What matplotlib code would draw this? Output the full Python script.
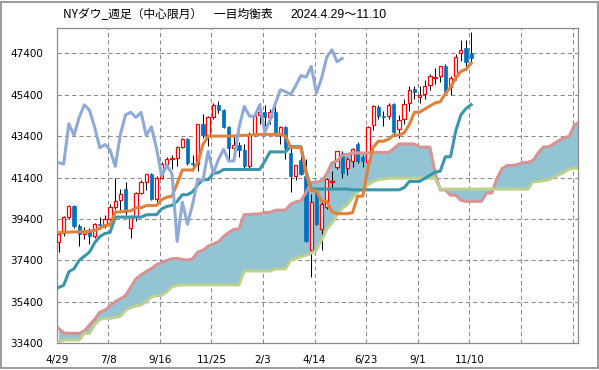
import numpy as np
import matplotlib.pyplot as plt
from matplotlib.patches import Rectangle

# NYダウ 週足 一目均衡表
plt.rcParams['font.family'] = ['DejaVu Sans']

tick_labels = ['4/29', '7/8', '9/16', '11/25', '2/3', '4/14', '6/23', '9/1', '11/10', '', '']
y_ticks = [33400, 35400, 37400, 39400, 41400, 43400, 45400, 47400]

opens = [38270, 38700, 39500, 40030, 39070, 38690, 38850, 38590, 39150, 39118,
         39375, 40000, 40300, 40850, 38950, 39500, 40660, 41175, 41563, 40345,
         41400, 42063, 42313, 42352, 42864, 43275, 42114, 42052, 43989, 43445,
         44297, 44910, 44643, 43828, 42840, 42992, 42732, 41938, 43488, 44424,
         44545, 44303, 44546, 43428, 43841, 42600, 41450, 42250, 41450, 37900,
         40700, 38900, 40000, 41160, 41900, 42600, 41850, 42220, 43000, 42400,
         42170, 43950, 44800, 44371, 44370, 44960, 43750, 44220, 45000, 45650,
         45300, 45410, 45850, 46200, 46300, 46800, 45770, 46300, 47400, 47650,
         47400]
highs = [38760, 39534, 40077, 40051, 39150, 39000, 38940, 39200, 39500, 39600,
         40100, 41376, 40850, 41200, 39600, 40700, 41300, 41585, 41600, 41450,
         42160, 42400, 42500, 42900, 43325, 43300, 42500, 44000, 44486, 44350,
         44990, 45073, 44700, 43900, 43400, 43100, 43000, 43600, 44500, 45000,
         44900, 44700, 44900, 43900, 43900, 42900, 42000, 42700, 42300, 40600,
         40800, 40300, 41400, 41700, 42700, 42700, 42400, 42800, 43100, 42500,
         43900, 44900, 44900, 44600, 45000, 45000, 44400, 45200, 45800, 45800,
         45800, 46100, 46400, 46700, 46800, 46900, 46300, 47380, 48040, 48050,
         48431]
lows = [37815, 38600, 39400, 38980, 38100, 38450, 38200, 38500, 38900, 38950,
        39200, 39900, 39850, 39600, 38499, 39300, 40600, 40800, 40300, 40200,
        41350, 41900, 41800, 41950, 42800, 42000, 41700, 41700, 43300, 42900,
        44200, 44500, 43800, 42300, 42600, 42400, 41800, 41800, 43400, 44000,
        43900, 44000, 43400, 43000, 42300, 40700, 41300, 41500, 38300, 36611,
        39100, 37900, 39900, 40800, 41800, 41400, 41500, 41900, 42100, 41900,
        42100, 43700, 44200, 43900, 44200, 43400, 43300, 44000, 44600, 45200,
        45000, 45200, 45600, 45900, 46000, 45400, 45400, 46100, 47000, 46600,
        46950]
closes = [38676, 39512, 40003, 39069, 38686, 38798, 38589, 39150, 39118, 39375,
          40000, 40287, 40589, 39737, 39497, 40659, 41175, 41563, 40345, 41393,
          42063, 42313, 42352, 42864, 43275, 42114, 42052, 43989, 43445, 44297,
          44910, 44643, 43828, 42840, 42992, 42732, 41938, 43488, 44424, 44545,
          44303, 44546, 43428, 43841, 42802, 41488, 41985, 41583, 38315, 40212,
          39142, 40113, 41317, 41249, 42655, 41603, 42270, 42763, 42197, 42206,
          43819, 44828, 44371, 44342, 44902, 43589, 44176, 44946, 45631, 45545,
          45401, 45834, 46315, 46247, 46758, 45479, 46191, 47207, 47563, 46987,
          47147]

# 転換線
tenkan = [38740, 38760, 38760, 38780, 38780, 38790, 38800, 38850, 38946, 39088,
          39100, 39738, 39738, 39788, 39788, 39938, 39938, 40042, 40050, 40050,
          40330, 40450, 40500, 41100, 41763, 41763, 41763, 42100, 43000, 43380,
          43400, 43400, 43400, 43400, 43400, 43420, 43437, 43437, 43460, 43480,
          43480, 43480, 43480, 43480, 43400, 42850, 42850, 42850, 41600, 40755,
          40755, 40255, 40255, 39755, 39655, 39655, 39655, 39705, 40500, 40500,
          41900, 42850, 43150, 43150, 43250, 43450, 43450, 43550, 43950, 44550,
          44550, 44700, 44850, 45000, 45050, 45450, 45750, 46190, 46520, 46625,
          46915]
# 基準線
kijun = [36090, 36200, 36850, 37000, 37400, 37600, 37800, 38250, 38550, 38700,
         38750, 39490, 39490, 39490, 39490, 39490, 39490, 39600, 39606, 39606,
         39886, 40006, 40056, 40256, 40570, 40570, 40713, 41050, 41293, 41293,
         41595, 41637, 41786, 41786, 41786, 41786, 41786, 41786, 41786, 41786,
         42187, 42637, 42637, 42637, 42637, 42887, 42887, 42887, 41687, 40842,
         40842, 40842, 40842, 40842, 40842, 40842, 40842, 40806, 40806, 40806,
         40806, 40806, 40806, 40806, 40806, 40806, 40806, 40906, 41206, 41206,
         41206, 41356, 41506, 41656, 41706, 42400, 42400, 43640, 44420, 44725,
         44916]
# 先行スパン1
senkou_a = [34120, 33900, 33880, 33880, 33880, 34000, 34280, 34550, 34900, 35000,
            35200, 35410, 35550, 35700, 36100, 36500, 36700, 36860, 37000, 37200,
            37280, 37400, 37480, 37500, 37450, 37415, 37480, 37805, 37890, 38090,
            38195, 38300, 38550, 38748, 38894, 38925, 39614, 39614, 39639, 39639,
            39714, 39714, 39821, 39828, 39828, 40108, 40228, 40278, 40678, 41167,
            41167, 41238, 41575, 42106, 42193, 42470, 42512, 42587, 42587, 42587,
            42587, 42612, 42612, 42612, 42612, 42794, 43019, 43019, 43019, 43019,
            42869, 42869, 42869, 41644, 40799, 40799, 40549, 40549, 40299, 40249,
            40249, 40249, 40256, 40653, 40653, 41353, 41828, 41978, 41978, 42028,
            42128, 42128, 42228, 42578, 42878, 42878, 43028, 43178, 43328, 43378,
            43925, 44075]
# 先行スパン2
senkou_b = [33450, 33560, 33560, 33560, 33560, 33880, 33880, 34300, 34550, 34610,
            34610, 34650, 34700, 35000, 35120, 35200, 35250, 35400, 35650, 35700,
            35720, 35900, 36130, 36200, 36220, 36220, 36220, 36220, 36220, 36220,
            36220, 36220, 36220, 36220, 36220, 36220, 36890, 36890, 36890, 36890,
            36890, 36890, 36990, 36990, 36990, 37420, 37500, 37580, 37650, 37750,
            37900, 38390, 38900, 39200, 39600, 39900, 40100, 40420, 40700, 40900,
            41050, 41200, 41300, 41330, 41370, 41370, 41370, 41370, 41370, 41370,
            41370, 41370, 41370, 41370, 40840, 40840, 40840, 40840, 40840, 40840,
            40840, 40840, 40840, 40840, 40840, 40840, 40840, 40840, 40840, 40840,
            40840, 40840, 41200, 41210, 41250, 41290, 41400, 41530, 41650, 41800,
            41850, 41850]
lag = 25  # 遅行スパンのずらし

fig = plt.figure(figsize=(5.99, 3.70), dpi=100)
ax = fig.add_axes([0.0947, 0.0722, 0.8703, 0.8513])

o = np.array(opens)
h = np.array(highs)
l = np.array(lows)
c = np.array(closes)
x = np.arange(len(c))
up = c >= o
body_low = np.minimum(o, c)
body_h = np.maximum(np.abs(c - o), 40)

# 雲
xs = np.arange(len(senkou_a))
ax.fill_between(xs, senkou_a, senkou_b, color='#93C4D4', lw=0, zorder=1.5)

# ローソク足
ax.vlines(x, l, h, color='black', lw=0.75, zorder=3)
ax.bar(x[up], body_h[up], bottom=body_low[up], width=0.64, facecolor='white',
       edgecolor='#FF0000', lw=0.9, zorder=4)
ax.bar(x[~up], body_h[~up], bottom=body_low[~up], width=0.64, facecolor='#0070C0',
       edgecolor='#0070C0', lw=0.5, zorder=4)

lw = 2.2
ax.plot(xs, senkou_a, color='#D69494', lw=lw, zorder=5, solid_joinstyle='round')
ax.plot(xs, senkou_b, color='#BCD08F', lw=lw, zorder=5, solid_joinstyle='round')
ax.plot(x, kijun, color='#3A97AA', lw=lw, zorder=6, solid_joinstyle='round')
ax.plot(x, tenkan, color='#E0823A', lw=lw, zorder=6, solid_joinstyle='round')
ax.plot(x[:len(c) - lag], c[lag:], color='#8FAAD6', lw=lw, zorder=6,
        solid_joinstyle='round')

ax.set_xlim(-0.35, 100.72)
ax.set_ylim(33400, 48600)
ax.set_xticks([-0.35 + 10 * k for k in range(len(tick_labels))])
ax.set_xticklabels(tick_labels)
ax.set_yticks(y_ticks)
ax.set_yticklabels([str(v) for v in y_ticks])
ax.tick_params(length=0, labelsize=7.5, colors='black')
ax.tick_params(axis='x', pad=8.5)
ax.tick_params(axis='y', pad=9.5)
ax.set_axisbelow(True)
ax.grid(True, color='#8A8A8A', lw=0.75, linestyle=(0, (4, 3)), zorder=0)
for s in ax.spines.values():
    s.set_color('#8A8A8A')
    s.set_linewidth(0.9)

# タイトル
fig.text(63 / 599, 1 - 14.5 / 370, 'NYダウ_週足（中心限月）　一目均衡表',
         ha='left', va='center', fontsize=8.5,
         family=['Noto Sans CJK JP', 'DejaVu Sans'])
fig.text(290 / 599, 1 - 14.5 / 370, '2024.4.29～11.10',
         ha='left', va='center', fontsize=8.8,
         family=['Liberation Sans', 'Noto Sans CJK JP'])

fig.patches.append(Rectangle((0.0017, 0.006), 0.9966, 0.989, transform=fig.transFigure,
                             fill=False, edgecolor='#8A8A8A', lw=1.2))

fig.savefig('out.png', dpi=100)
plt.close(fig)
